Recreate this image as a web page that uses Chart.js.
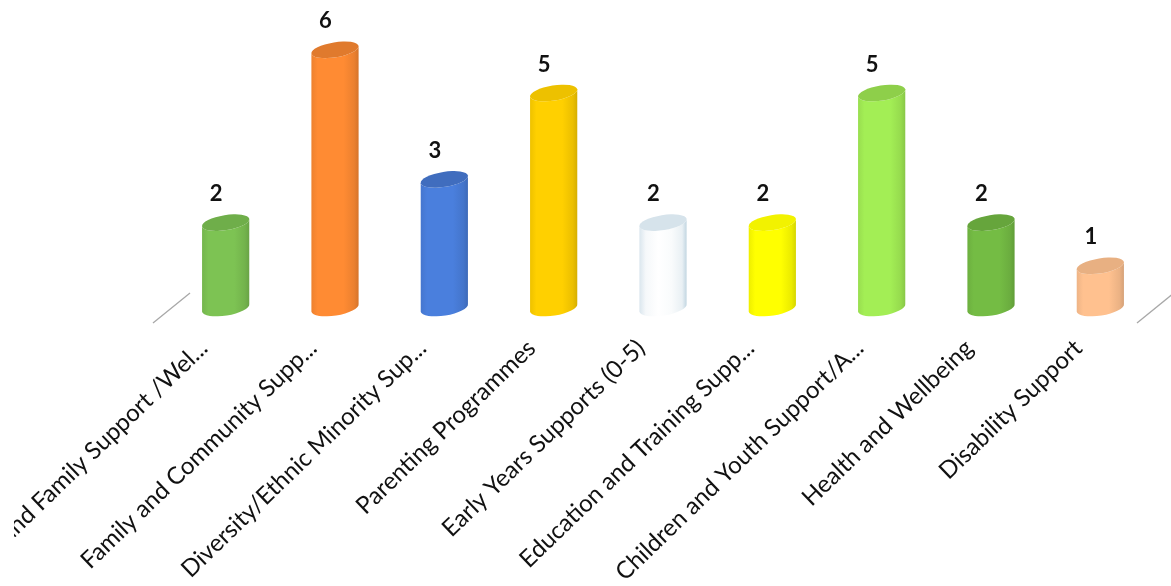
<!DOCTYPE html>
<html><head><meta charset="utf-8">
<style>html,body{margin:0;padding:0;background:#fff}#w{position:relative;width:1171px;height:586px}canvas{display:block;filter:blur(0.45px)}</style>
<script src="https://cdn.jsdelivr.net/npm/chart.js@4"></script></head>
<body><div id="w"><canvas id="c" width="1171" height="586"></canvas></div>
<script>
const categories = ["Child and Family Support /Wel...","Family and Community Supp...","Diversity/Ethnic Minority Sup...","Parenting Programmes","Early Years Supports (0-5)","Education and Training Supp...","Children and Youth Support/A...","Health and Wellbeing","Disability Support"];
const counts = [2,6,3,5,2,2,5,2,1];
const barColors = ["#7DC353","#FF8B33","#4A7FDD","#FFD000","#FFFFFF","#FFFF00","#A3EE55","#74BC44","#FFC18F"];
const capShades = [0.89,0.88,0.86,0.93,0.87,0.95,0.87,0.88,0.91];

function shade(hex,f){
  const n=parseInt(hex.slice(1),16);
  const t=hex.toUpperCase()==='#FFFFFF'?[1-(1-f)*1.25,1-(1-f)*0.85,1-(1-f)*0.6]:[f,f,f];
  return `rgb(${Math.round((n>>16&255)*t[0])},${Math.round((n>>8&255)*t[1])},${Math.round((n&255)*t[2])})`;
}
const TILT=-0.16, RY=7.5;
const cylinder={id:'cylinder',
  beforeDatasetsDraw(chart){
    const {ctx,chartArea:a}=chart;
    ctx.save();ctx.strokeStyle='#a8a8a8';ctx.lineWidth=1.3;
    [a.left,a.right].forEach(x=>{ctx.beginPath();ctx.moveTo(x-18,a.bottom+14);ctx.lineTo(x+19,a.bottom-16);ctx.stroke();});
    ctx.restore();
  },
  beforeDatasetDraw(chart,args){
    const {ctx}=chart;
    const meta=chart.getDatasetMeta(args.index);
    meta.data.forEach((el,i)=>{
      const p=el.getProps(['x','y','base','width','options'],true);
      const col=el.options.backgroundColor, rx=p.width/2+0.4;
      const isWhite=col.toUpperCase()==='#FFFFFF';
      const g=ctx.createLinearGradient(p.x-rx,0,p.x+rx,0);
      g.addColorStop(0,shade(col,isWhite?0.88:0.93));
      g.addColorStop(0.14,shade(col,isWhite?0.97:1));
      g.addColorStop(0.4,shade(col,1));
      g.addColorStop(0.68,shade(col,isWhite?0.98:1));
      g.addColorStop(0.9,shade(col,isWhite?0.93:0.92));
      g.addColorStop(1,shade(col,isWhite?0.8:0.83));
      ctx.save();
      ctx.beginPath();
      ctx.ellipse(p.x,p.y,rx,RY,TILT,Math.PI,0,true);
      ctx.ellipse(p.x,p.base-1,rx,RY,TILT,0,Math.PI,false);
      ctx.closePath();
      ctx.fillStyle=g;ctx.fill();
      ctx.beginPath();
      ctx.ellipse(p.x,p.y,rx,RY,TILT,0,Math.PI*2);
      ctx.fillStyle=shade(col,capShades[i]);ctx.fill();
      ctx.restore();
      ctx.save();
      ctx.fillStyle='#111';ctx.font='700 22px Lato';ctx.textAlign='center';ctx.textBaseline='middle';
      ctx.fillText(String(counts[i]),p.x-9.5,p.y-28.5);
      ctx.restore();
    });
    return false;
  },
  afterDraw(chart){chart.ctx.clearRect(0,0,14,chart.height);}
};
new Chart(document.getElementById('c'),{
  type:'bar',
  data:{labels:categories,datasets:[{data:counts,backgroundColor:barColors,barPercentage:0.43,categoryPercentage:1}]},
  plugins:[cylinder],
  options:{responsive:false,animation:false,
    layout:{padding:{left:171,right:16,top:6.6,bottom:0}},
    plugins:{legend:{display:false},tooltip:{enabled:false},title:{display:false}},
    scales:{
      y:{display:false,min:0,max:7},
      x:{grid:{display:false},border:{display:false},
        afterFit(s){s.height=277;s.paddingLeft=0;s.paddingRight=0;},
        ticks:{autoSkip:false,minRotation:44,maxRotation:44,padding:17,labelOffset:-22,color:'#111',font:{family:'Lato',size:24}}}
    }
  }
});
</script></body></html>
